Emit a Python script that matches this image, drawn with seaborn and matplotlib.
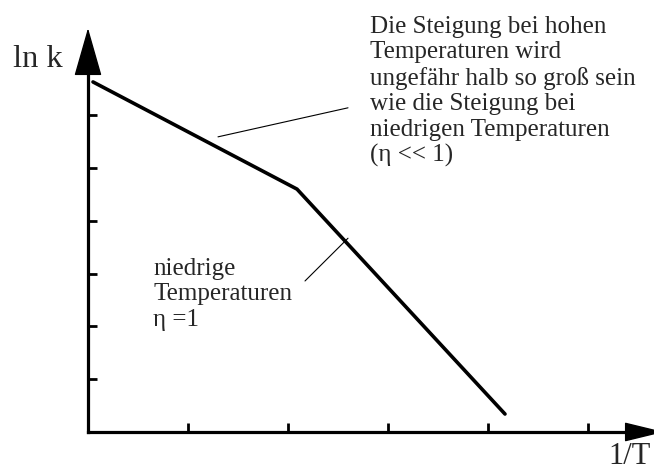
import matplotlib
matplotlib.use("Agg")
import matplotlib.pyplot as plt
import seaborn as sns

# Piecewise-linear Arrhenius-type plot: ln k versus 1/T
inv_T = [0.05, 2.09, 4.17]
ln_k = [6.63, 4.60, 0.34]

# leader lines pointing from the notes to the two branches
leader_high_x = [1.30, 2.60]
leader_high_y = [5.59, 6.14]
leader_low_x = [2.17, 2.60]
leader_low_y = [2.86, 3.67]

x_ticks = [1, 2, 3, 4, 5]
y_ticks = [1, 2, 3, 4, 5, 6]

note_high = ("Die Steigung bei hohen\nTemperaturen wird\nungefähr halb so groß sein\n"
             "wie die Steigung bei\nniedrigen Temperaturen\n(η << 1)")
note_low = "niedrige\nTemperaturen\nη =1"
x_label = "1/T"
y_label = "ln k"

sns.set_style("ticks")
plt.rcParams["font.family"] = ["Liberation Serif", "DejaVu Serif"]

W, H = 654, 472
fig = plt.figure(figsize=(W / 100, H / 100), dpi=100)
ax = fig.add_axes([0, 0, 1, 1])
ax.set_xlim(-0.88, 5.66)
ax.set_ylim(-0.758, 8.182)

# axes drawn through the origin, arrow heads added below
for side in ("top", "right"):
    ax.spines[side].set_visible(False)
for side in ("left", "bottom"):
    ax.spines[side].set_position(("data", 0))
    ax.spines[side].set_linewidth(2.3)
    ax.spines[side].set_color("black")
    ax.spines[side].set_capstyle("projecting")
ax.spines["left"].set_bounds(0, 6.8)
ax.spines["bottom"].set_bounds(0, 5.4)

ax.set_xticks(x_ticks)
ax.set_yticks(y_ticks)
ax.tick_params(direction="in", length=6.5, width=2.0, color="black",
               labelbottom=False, labelleft=False)

arrow_kw = dict(color="black", lw=1.0, shrinkA=0, shrinkB=0, mutation_scale=1)
ax.annotate("", xy=(0, 7.65), xytext=(0, 6.7), annotation_clip=False,
            arrowprops=dict(arrowstyle="-|>,head_length=31.5,head_width=9.0", **arrow_kw))
ax.annotate("", xy=(5.76, 0), xytext=(5.3, 0), annotation_clip=False,
            arrowprops=dict(arrowstyle="-|>,head_length=25.5,head_width=6.2", **arrow_kw))

sns.lineplot(x=inv_T, y=ln_k, ax=ax, color="black", lw=2.6, sort=False,
             solid_capstyle="round", solid_joinstyle="miter")
sns.lineplot(x=leader_high_x, y=leader_high_y, ax=ax, color="black", lw=0.8, sort=False)
sns.lineplot(x=leader_low_x, y=leader_low_y, ax=ax, color="black", lw=0.8, sort=False)


def fx(px):
    return px / W


def fy(py):
    return 1 - py / H


ax.text(fx(370), fy(16), note_high, transform=ax.transAxes, fontsize=18,
        ha="left", va="top", linespacing=1.2)
ax.text(fx(153), fy(258), note_low, transform=ax.transAxes, fontsize=18,
        ha="left", va="top", linespacing=1.2)
ax.text(fx(13), fy(67), y_label, transform=ax.transAxes, fontsize=23.4,
        ha="left", va="baseline")
ax.text(fx(651), fy(471.5), x_label, transform=ax.transAxes, fontsize=22,
        ha="right", va="bottom")

fig.savefig("out.png", dpi=100, facecolor="white")
